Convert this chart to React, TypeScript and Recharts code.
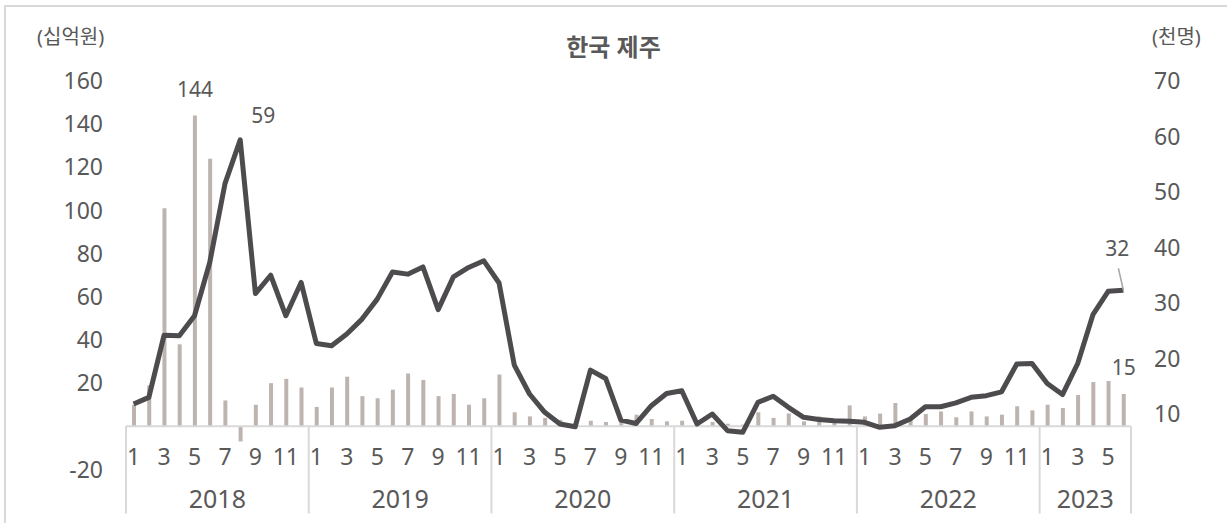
import { ComposedChart, Bar, Line, XAxis, YAxis, ReferenceLine, LabelList } from 'recharts'

const years = ['2018', '2019', '2020', '2021', '2022', '2023']
const monthsInYear = [12, 12, 12, 12, 12, 6]

// 카드 사용액 (십억원), left axis
const spending = [
  10, 19, 101, 38, 144, 124, 12, -7, 10, 20, 22, 18,
  9, 18, 23, 14, 13, 17, 24.5, 21.5, 14, 15, 10, 13,
  24, 6.5, 4.6, 3.9, 3, 0.5, 2.6, 2, 3, 5.4, 3.4, 2.3,
  2.6, 1, 2, 1.2, 0.8, 6.5, 3.9, 6, 2.3, 4.6, 2.3, 9.7,
  4.6, 5.9, 10.8, 3, 5.7, 6.9, 4.2, 6.9, 4.6, 5.4, 9.3, 7.4,
  10, 8.5, 14.5, 20.5, 21, 15,
]

// 입국자 수 (천명), right axis
const visitors = [
  11.8, 13, 24.2, 24.1, 27.7, 37.3, 51.5, 59.4, 31.7, 35, 27.7, 33.7,
  22.7, 22.3, 24.4, 27.1, 30.7, 35.6, 35.2, 36.5, 28.8, 34.7, 36.4, 37.6,
  33.6, 18.8, 13.6, 10.3, 8.2, 7.7, 17.9, 16.4, 8.9, 8.3, 11.5, 13.7,
  14.2, 8.2, 10, 7, 6.7, 12.1, 13.2, 11.2, 9.4, 9, 8.8, 8.7,
  8.5, 7.6, 7.9, 9.1, 11.3, 11.3, 12, 13, 13.3, 14, 19, 19.1,
  15.5, 13.5, 19.1, 27.9, 32.1, 32.3,
]

const leftTicks = [-20, 20, 40, 60, 80, 100, 120, 140, 160]
const rightTicks = [10, 20, 30, 40, 50, 60, 70]

const data: { key: string; year: string; month: number; first: boolean; count: number; spending: number; visitors: number }[] = []
years.forEach((y, yi) => {
  for (let m = 1; m <= monthsInYear[yi]; m++) {
    const i = data.length
    data.push({ key: `${y}-${m}`, year: y, month: m, first: m === 1, count: monthsInYear[yi], spending: spending[i], visitors: visitors[i] })
  }
})

const W = 1227
const H = 523
const PLOT_L = 126
const PLOT_R = 1131
const BAND = (PLOT_R - PLOT_L) / data.length
const TXT = '#595959'
const GRID = '#d9d9d9'
const FONT = '"Noto Sans", "Noto Sans CJK KR", sans-serif'

function CategoryTick(props: any) {
  const { x, y, index } = props
  const d = data[index]
  if (!d) return null
  const zeroY = y - 43.5
  const left = x - BAND / 2
  const isLast = index === data.length - 1
  return (
    <g>
      {d.month % 2 === 1 && (
        <text x={x} y={y - 14} textAnchor="middle" dominantBaseline="central" fill={TXT} fontSize={23} fontFamily={FONT}>
          {d.month}
        </text>
      )}
      {d.first && (
        <>
          <line x1={left} x2={left} y1={zeroY} y2={y + 44} stroke={GRID} strokeWidth={2} />
          <text x={left + (d.count * BAND) / 2} y={y + 28} textAnchor="middle" dominantBaseline="central" fill={TXT} fontSize={25} fontFamily={FONT}>
            {d.year}
          </text>
        </>
      )}
      {isLast && <line x1={x + BAND / 2} x2={x + BAND / 2} y1={zeroY} y2={y + 44} stroke={GRID} strokeWidth={2} />}
    </g>
  )
}

function BarLabel(props: any) {
  const { x, y, width, value, index } = props
  if (index !== 4 && index !== data.length - 1) return null
  return (
    <text x={x + width / 2} y={y - 27} textAnchor="middle" dominantBaseline="central" fill={TXT} fontSize={21} fontFamily={FONT}>
      {Math.round(value)}
    </text>
  )
}

function LineLabel(props: any) {
  const { x, y, value, index } = props
  if (index === 7) {
    return (
      <text x={x + 23} y={y - 25} textAnchor="middle" dominantBaseline="central" fill={TXT} fontSize={21} fontFamily={FONT}>
        {Math.round(value)}
      </text>
    )
  }
  if (index === data.length - 1) {
    return (
      <g>
        <line x1={x} y1={y} x2={x - 5} y2={y - 22} stroke="#a6a6a6" strokeWidth={1.5} />
        <text x={x - 6} y={y - 42} textAnchor="middle" dominantBaseline="central" fill={TXT} fontSize={21} fontFamily={FONT}>
          {Math.round(value)}
        </text>
      </g>
    )
  }
  return null
}

export default function App() {
  return (
    <div style={{ position: 'absolute', left: 0, top: 0, width: W, height: H, overflow: 'hidden', background: '#fff', fontFamily: FONT }}>
      <div style={{ position: 'absolute', left: 4, top: 5, width: W + 20, height: H + 20, border: `2px solid ${GRID}` }} />
      <div style={{ position: 'absolute', left: 0, width: W, top: 31, textAlign: 'center', fontSize: 24, fontWeight: 700, color: TXT, lineHeight: '32px' }}>
        한국 제주
      </div>
      <div style={{ position: 'absolute', left: 37, top: 23, fontSize: 20, color: TXT, lineHeight: '28px' }}>(십억원)</div>
      <div style={{ position: 'absolute', left: 1152, top: 23, fontSize: 20, color: TXT, lineHeight: '28px' }}>(천명)</div>
      <div style={{ position: 'absolute', left: 0, top: 0 }}>
        <ComposedChart width={W} height={H} data={data} margin={{ top: 81, right: 0, bottom: 0, left: 0 }}>
          <XAxis dataKey="key" interval={0} height={53.5} tick={<CategoryTick />} tickLine={false} axisLine={false} tickSize={0} tickMargin={0} />
          <YAxis
            yAxisId="left"
            width={PLOT_L}
            domain={[-20, 160]}
            ticks={leftTicks}
            interval={0}
            tickLine={false}
            axisLine={false}
            tickMargin={17}
            tick={{ fill: TXT, fontSize: 23, fontFamily: FONT }}
          />
          <YAxis
            yAxisId="right"
            orientation="right"
            width={W - PLOT_R}
            domain={[0, 70]}
            ticks={rightTicks}
            interval={0}
            tickLine={false}
            axisLine={false}
            tickMargin={17}
            tick={{ fill: TXT, fontSize: 23, fontFamily: FONT }}
          />
          <ReferenceLine yAxisId="left" y={0} stroke={GRID} strokeWidth={2} />
          <Bar yAxisId="left" dataKey="spending" fill="#bdb4b0" barSize={4} isAnimationActive={false}>
            <LabelList dataKey="spending" content={<BarLabel />} />
          </Bar>
          <Line
            yAxisId="right"
            type="linear"
            dataKey="visitors"
            stroke="#4d4b4e"
            strokeWidth={5}
            strokeLinejoin="round"
            dot={false}
            isAnimationActive={false}
          >
            <LabelList dataKey="visitors" content={<LineLabel />} />
          </Line>
        </ComposedChart>
      </div>
    </div>
  )
}
